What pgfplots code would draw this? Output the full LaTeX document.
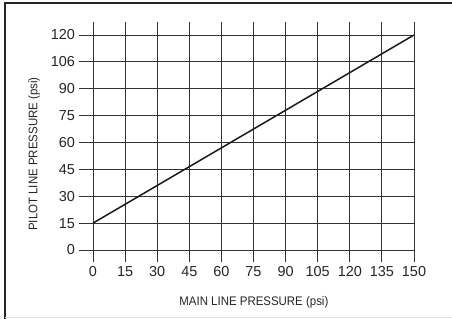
\documentclass[border=0pt]{standalone}
\usepackage{fontspec}
\setmainfont{Liberation Sans}
\newfontfamily\condensed{Liberation Sans}[FakeStretch=0.92]
\usepackage{pgfplots}
\pgfplotsset{compat=1.18}
\begin{document}
\begin{tikzpicture}
\useasboundingbox (-79bp,-57bp) rectangle (373bp,262bp);
\draw[black!85, line width=2bp] (-74bp,-57bp) -- (-74bp,259bp) -- (373bp,259bp);
\draw[black!12, line width=0.8bp] (-74bp,-55.5bp) -- (373bp,-55.5bp);
\begin{axis}[
  at={(0,0)}, anchor=south west,
  scale only axis, width=335bp, height=240bp,
  xmin=-6.54, xmax=150, ymin=-6.7, ymax=127.25,
  xtick={0,15,...,150}, ytick={0,15,...,120},
  yticklabels={0,15,30,45,60,75,90,106,120},
  grid=major,
  major grid style={draw=black!80, line width=0.9bp},
  axis line style={draw=none},
  tick style={draw=none},
  /pgf/number format/assume math mode=true,
  ticklabel style={font=\fontsize{14.5}{16}\selectfont, text=black!85},
  yticklabel style={xshift=-0.5bp},
  xticklabel style={yshift=-1bp},
  xlabel={MAIN LINE PRESSURE (psi)},
  ylabel={PILOT LINE PRESSURE (psi)},
  every axis x label/.style={at={(axis description cs:0.522,-0.167)}, anchor=center, font=\condensed\fontsize{12.5}{14}\selectfont, text=black!85},
  every axis y label/.style={at={(axis description cs:-0.134,0.45)}, anchor=center, rotate=90, font=\condensed\fontsize{12.5}{14}\selectfont, text=black!85},
]
\addplot[black!90, line width=1.5bp] coordinates {(0,15) (150,120)};
\end{axis}
\end{tikzpicture}
\end{document}
